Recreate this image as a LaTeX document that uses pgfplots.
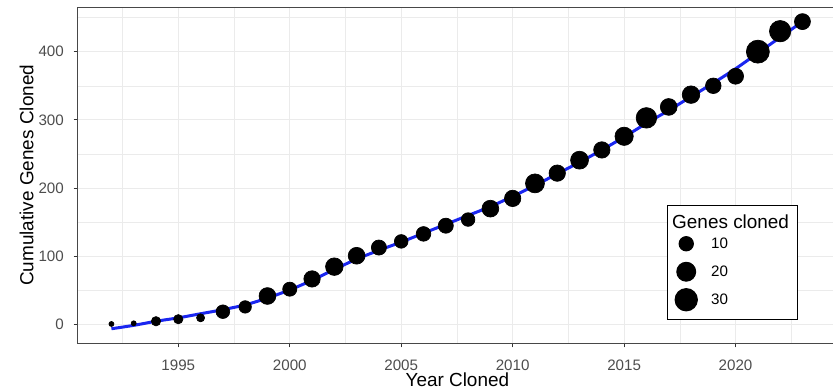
\documentclass[border=0pt]{standalone}
\usepackage{fontspec}
\setmainfont{Liberation Sans}
\usepackage{pgfplots}
\pgfplotsset{compat=1.18}
\usepackage{pgfplotstable}
\definecolor{gridc}{HTML}{EBEBEB}
\definecolor{tickc}{HTML}{333333}
\definecolor{labc}{HTML}{4D4D4D}
\definecolor{fitblue}{HTML}{1A26F0}

\pgfplotstableread{
year cum n
1992 1 1
1993 2 1
1994 5 3
1995 8 3
1996 10 2
1997 19 9
1998 26 7
1999 42 16
2000 52 10
2001 67 15
2002 85 18
2003 101 16
2004 113 12
2005 122 9
2006 133 11
2007 145 12
2008 154 9
2009 170 16
2010 185 15
2011 207 22
2012 222 15
2013 241 19
2014 256 15
2015 276 20
2016 303 27
2017 319 16
2018 337 18
2019 350 13
2020 364 14
2021 400 36
2022 430 30
2023 444 14
}\genes

\pgfplotstableread{
year fit
1992 -6
1993 -1
1994 5
1995 10
1996 16
1997 22
1998 29
1999 39
2000 51
2001 65
2002 81
2003 96
2004 109
2005 121
2006 134
2007 147
2008 160
2009 173
2010 188
2011 204
2012 221
2013 238
2014 256
2015 275
2016 295
2017 314
2018 334
2019 354
2020 375
2021 398
2022 421
2023 444
}\fitline

\begin{document}
\begin{tikzpicture}
\begin{axis}[
  at={(0,0)}, anchor=south west,
  scale only axis, width=759.3bp, height=336bp,
  xmin=1990.487, xmax=2024.55, ymin=-27.3, ymax=465,
  xtick={1995,2000,...,2020}, ytick={0,100,...,400},
  minor xtick={1992.5,1997.5,...,2022.5},
  minor ytick={50,150,...,450},
  grid=both,
  major grid style={gridc, line width=1.1bp},
  minor grid style={gridc, line width=0.55bp},
  minor tick length=0pt,
  major tick length=4bp,
  tick align=outside,
  xtick pos=left, ytick pos=left,
  major tick style={tickc, line width=1.1bp},
  axis line style={black!72, line width=1.1bp},
  /pgf/number format/assume math mode=true,
  /pgf/number format/set thousands separator={},
  ticklabel style={font=\fontsize{15.2}{18}\selectfont, text=labc},
  xticklabel style={anchor=north, inner sep=0pt, yshift=-12bp},
  yticklabel style={anchor=east, inner sep=0pt, xshift=-9.7bp},
  xlabel={Year Cloned}, ylabel={Cumulative Genes Cloned},
  every axis x label/.style={at={(rel axis cs:0.5,-0.10923)}, anchor=center, font=\fontsize{19}{22}\selectfont},
  every axis y label/.style={at={(rel axis cs:-0.0672,0.5)}, rotate=90, anchor=center, font=\fontsize{19}{22}\selectfont},
  legend style={at={(rel axis cs:0.7757,0.4116)}, anchor=north west,
    draw=black, line width=1.1bp, fill=white,
    inner xsep=5bp, inner ysep=5.6bp, column sep=11bp, row sep=0pt,
    nodes={inner sep=0pt},
    font=\fontsize{15.2}{18}\selectfont, cells={anchor=west}},
]
\addplot[fitblue, line width=3bp, smooth, forget plot] table[x=year, y=fit] {\fitline};
\addplot[scatter, only marks, mark=*, forget plot,
  mark options={line width=0.7bp},
  scatter/use mapped color={draw=black, fill=black},
  visualization depends on={0.7+1.8*(1+5*sqrt((\thisrow{n}-1)/35)) \as \msize},
  scatter/@pre marker code/.append style={/tikz/mark size=\msize bp}]
  table[x=year, y=cum] {\genes};
\addlegendimage{empty legend}
\addlegendentry{\hspace*{-39bp}\fontsize{19}{22}\selectfont Genes cloned\hspace*{3.8bp}\rule[-11bp]{0pt}{28.1bp}}
\addlegendimage{legend image code/.code={\path[draw=none,fill=none] (-14bp,-14bp) rectangle (14bp,14bp); \fill[black] (0bp,0bp) circle (7.1bp);}}
\addlegendentry{10}
\addlegendimage{legend image code/.code={\path[draw=none,fill=none] (-14bp,-14bp) rectangle (14bp,14bp); \fill[black] (0bp,0bp) circle (9.4bp);}}
\addlegendentry{20}
\addlegendimage{legend image code/.code={\path[draw=none,fill=none] (-14bp,-14bp) rectangle (14bp,14bp); \fill[black] (0bp,0bp) circle (11.1bp);}}
\addlegendentry{30}
\end{axis}
\pgfresetboundingbox
\path (-77.7bp,-46.7bp) rectangle (755.3bp,343.3bp);
\end{tikzpicture}
\end{document}
